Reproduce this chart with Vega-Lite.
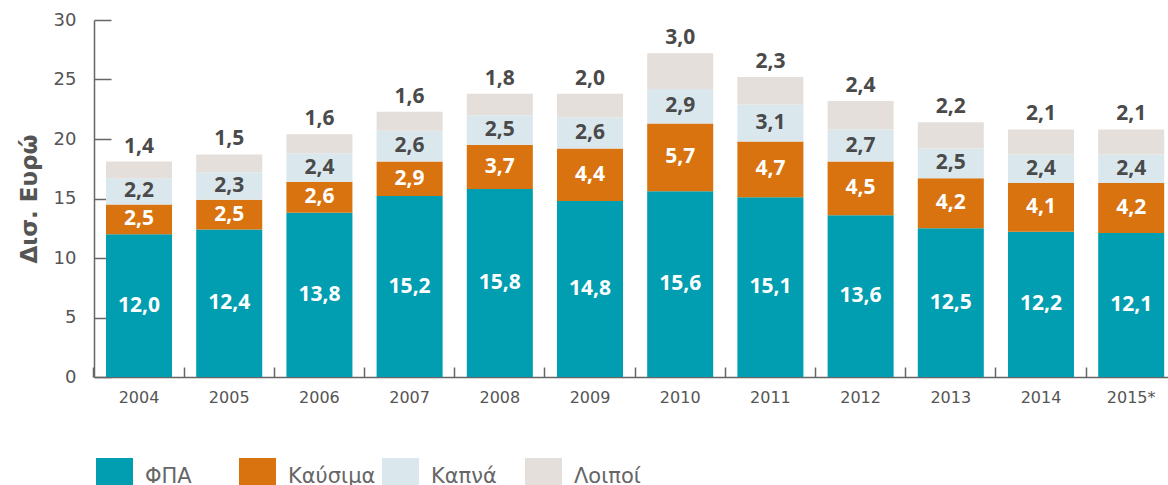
{
  "$schema": "https://vega.github.io/schema/vega-lite/v6.json",
  "autosize": "none",
  "width": 1074,
  "height": 357,
  "padding": {"left": 94, "top": 20, "right": 0, "bottom": 108},
  "config": {
    "locale": {"number": {"decimal": ",", "thousands": ".", "grouping": [3], "currency": ["", " €"]}},
    "view": {"stroke": null},
    "font": "Open Sans"
  },
  "data": {
    "values": [
      {"year": "2004", "cat": "ΦΠΑ", "o": 1, "v": 12.0},
      {"year": "2004", "cat": "Καύσιμα", "o": 2, "v": 2.5},
      {"year": "2004", "cat": "Καπνά", "o": 3, "v": 2.2},
      {"year": "2004", "cat": "Λοιποί", "o": 4, "v": 1.4},
      {"year": "2005", "cat": "ΦΠΑ", "o": 1, "v": 12.4},
      {"year": "2005", "cat": "Καύσιμα", "o": 2, "v": 2.5},
      {"year": "2005", "cat": "Καπνά", "o": 3, "v": 2.3},
      {"year": "2005", "cat": "Λοιποί", "o": 4, "v": 1.5},
      {"year": "2006", "cat": "ΦΠΑ", "o": 1, "v": 13.8},
      {"year": "2006", "cat": "Καύσιμα", "o": 2, "v": 2.6},
      {"year": "2006", "cat": "Καπνά", "o": 3, "v": 2.4},
      {"year": "2006", "cat": "Λοιποί", "o": 4, "v": 1.6},
      {"year": "2007", "cat": "ΦΠΑ", "o": 1, "v": 15.2},
      {"year": "2007", "cat": "Καύσιμα", "o": 2, "v": 2.9},
      {"year": "2007", "cat": "Καπνά", "o": 3, "v": 2.6},
      {"year": "2007", "cat": "Λοιποί", "o": 4, "v": 1.6},
      {"year": "2008", "cat": "ΦΠΑ", "o": 1, "v": 15.8},
      {"year": "2008", "cat": "Καύσιμα", "o": 2, "v": 3.7},
      {"year": "2008", "cat": "Καπνά", "o": 3, "v": 2.5},
      {"year": "2008", "cat": "Λοιποί", "o": 4, "v": 1.8},
      {"year": "2009", "cat": "ΦΠΑ", "o": 1, "v": 14.8},
      {"year": "2009", "cat": "Καύσιμα", "o": 2, "v": 4.4},
      {"year": "2009", "cat": "Καπνά", "o": 3, "v": 2.6},
      {"year": "2009", "cat": "Λοιποί", "o": 4, "v": 2.0},
      {"year": "2010", "cat": "ΦΠΑ", "o": 1, "v": 15.6},
      {"year": "2010", "cat": "Καύσιμα", "o": 2, "v": 5.7},
      {"year": "2010", "cat": "Καπνά", "o": 3, "v": 2.9},
      {"year": "2010", "cat": "Λοιποί", "o": 4, "v": 3.0},
      {"year": "2011", "cat": "ΦΠΑ", "o": 1, "v": 15.1},
      {"year": "2011", "cat": "Καύσιμα", "o": 2, "v": 4.7},
      {"year": "2011", "cat": "Καπνά", "o": 3, "v": 3.1},
      {"year": "2011", "cat": "Λοιποί", "o": 4, "v": 2.3},
      {"year": "2012", "cat": "ΦΠΑ", "o": 1, "v": 13.6},
      {"year": "2012", "cat": "Καύσιμα", "o": 2, "v": 4.5},
      {"year": "2012", "cat": "Καπνά", "o": 3, "v": 2.7},
      {"year": "2012", "cat": "Λοιποί", "o": 4, "v": 2.4},
      {"year": "2013", "cat": "ΦΠΑ", "o": 1, "v": 12.5},
      {"year": "2013", "cat": "Καύσιμα", "o": 2, "v": 4.2},
      {"year": "2013", "cat": "Καπνά", "o": 3, "v": 2.5},
      {"year": "2013", "cat": "Λοιποί", "o": 4, "v": 2.2},
      {"year": "2014", "cat": "ΦΠΑ", "o": 1, "v": 12.2},
      {"year": "2014", "cat": "Καύσιμα", "o": 2, "v": 4.1},
      {"year": "2014", "cat": "Καπνά", "o": 3, "v": 2.4},
      {"year": "2014", "cat": "Λοιποί", "o": 4, "v": 2.1},
      {"year": "2015*", "cat": "ΦΠΑ", "o": 1, "v": 12.1},
      {"year": "2015*", "cat": "Καύσιμα", "o": 2, "v": 4.2},
      {"year": "2015*", "cat": "Καπνά", "o": 3, "v": 2.4},
      {"year": "2015*", "cat": "Λοιποί", "o": 4, "v": 2.1}
    ]
  },
  "encoding": {
    "x": {
      "field": "year", "type": "ordinal", "sort": null,
      "scale": {"paddingInner": 0.268, "paddingOuter": 0.0876, "align": 0.76},
      "axis": {
        "title": null, "labelAngle": 0, "labelFont": "DejaVu Sans", "labelFontSize": 16, "labelColor": "#555555",
        "labelPadding": 22, "tickSize": -10, "bandPosition": -0.183,
        "domainColor": "#666666", "tickColor": "#666666", "domainWidth": 1.5, "tickWidth": 1.5
      }
    },
    "y": {
      "field": "v", "type": "quantitative", "stack": "zero",
      "scale": {"domain": [0, 30], "nice": false},
      "axis": {
        "title": "Δισ. Ευρώ", "values": [0, 5, 10, 15, 20, 25, 30], "grid": false,
        "labelFont": "DejaVu Sans", "labelFontSize": 18, "labelColor": "#555555", "labelPadding": 35, "tickSize": -17,
        "domainColor": "#666666", "tickColor": "#666666", "domainWidth": 1.5, "tickWidth": 1.5,
        "titleFont": "DejaVu Sans", "titleFontSize": 23, "titleFontWeight": "bold", "titleColor": "#555555", "titlePadding": 12
      }
    },
    "order": {"field": "o", "type": "quantitative"}
  },
  "layer": [
    {
      "mark": {"type": "bar"},
      "encoding": {
        "color": {
          "field": "cat", "type": "nominal",
          "scale": {"domain": ["ΦΠΑ", "Καύσιμα", "Καπνά", "Λοιποί"], "range": ["#009eb0", "#d8730f", "#dae8ee", "#e5dfdb"]},
          "legend": {
            "title": null, "orient": "none", "direction": "horizontal", "legendX": 2, "legendY": 438,
            "symbolType": "square", "symbolSize": 1369, "symbolStrokeWidth": 0, "symbolOpacity": 1,
            "labelFont": "DejaVu Sans", "labelFontSize": 21, "labelColor": "#666666", "labelOffset": 12,
            "gridAlign": "all", "columnPadding": 6
          }
        }
      }
    },
    {
      "mark": {"type": "text", "fontSize": 21, "fontWeight": "bold", "baseline": "middle", "align": "center"},
      "encoding": {
        "y": {"field": "v", "type": "quantitative", "stack": "zero", "bandPosition": 0.5},
        "detail": {"field": "cat"},
        "text": {"condition": {"test": "datum.cat === 'Λοιποί'", "value": ""}, "field": "v", "type": "quantitative", "format": ".1f"},
        "fill": {"condition": {"test": "datum.cat === 'Καπνά'", "value": "#4a4a4a"}, "value": "#ffffff"}
      }
    },
    {
      "mark": {"type": "text", "fontSize": 21, "fontWeight": "bold", "baseline": "alphabetic", "align": "center", "dy": -9, "color": "#4a4a4a"},
      "encoding": {
        "y": {"field": "v", "type": "quantitative", "stack": "zero", "bandPosition": 1},
        "detail": {"field": "cat"},
        "text": {"condition": {"test": "datum.cat !== 'Λοιποί'", "value": ""}, "field": "v", "type": "quantitative", "format": ".1f"}
      }
    }
  ]
}
